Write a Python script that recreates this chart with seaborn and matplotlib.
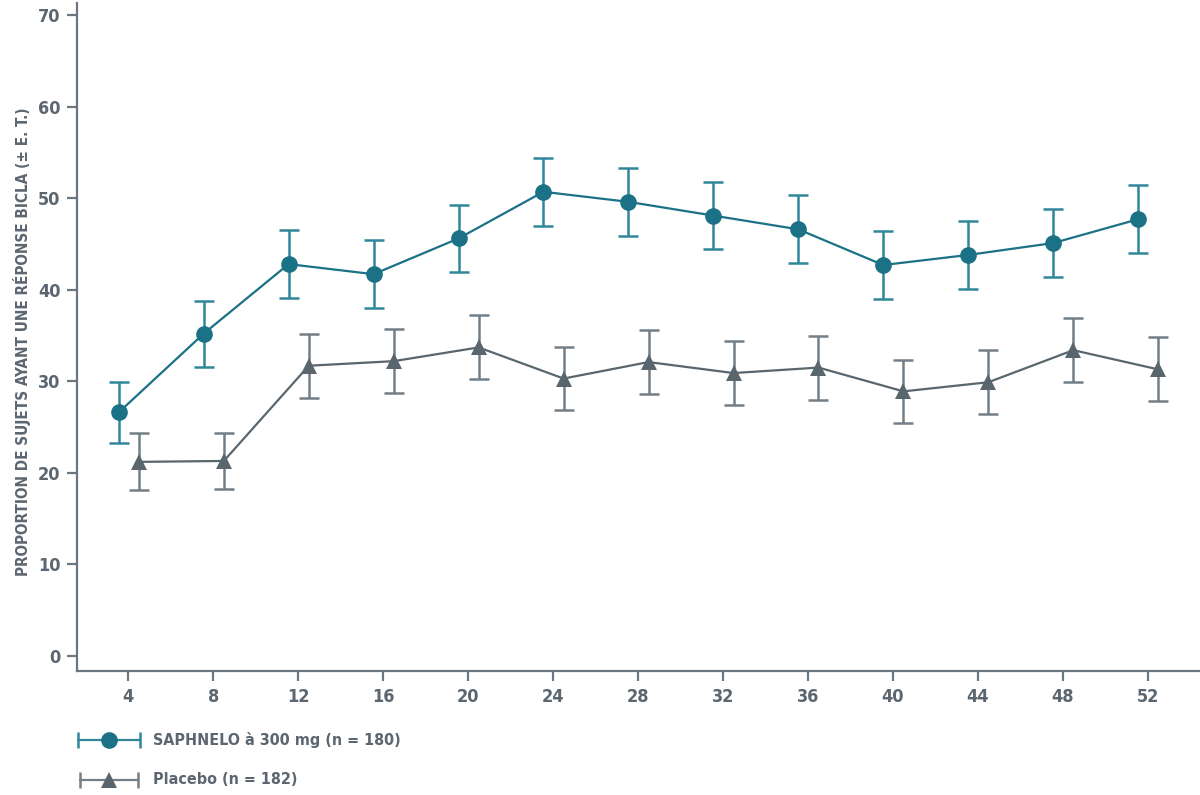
import pandas as pd
import seaborn as sns
import matplotlib.pyplot as plt

weeks = [4, 8, 12, 16, 20, 24, 28, 32, 36, 40, 44, 48, 52]
saph = [26.6, 35.2, 42.8, 41.7, 45.6, 50.7, 49.6, 48.1, 46.6, 42.7, 43.8, 45.1, 47.7]
saph_se = [3.3, 3.6, 3.7, 3.7, 3.7, 3.7, 3.7, 3.7, 3.7, 3.7, 3.7, 3.7, 3.7]
plac = [21.2, 21.3, 31.7, 32.2, 33.7, 30.3, 32.1, 30.9, 31.5, 28.9, 29.9, 33.4, 31.3]
plac_se = [3.1, 3.1, 3.5, 3.5, 3.5, 3.4, 3.5, 3.5, 3.5, 3.4, 3.5, 3.5, 3.5]
labels = ["SAPHNELO à 300 mg (n = 180)", "Placebo (n = 182)"]
ylab = "PROPORTION DE SUJETS AYANT UNE RÉPONSE BICLA (± E. T.)"

sns.set_style("white")
plt.rcParams["font.family"] = ["DejaVu Sans"]
plt.rcParams["font.stretch"] = "condensed"
plt.rcParams["font.weight"] = "bold"

TXT = "#5b6670"
SPINE = "#6b7780"
TEAL = "#1b7185"
TEAL_E = "#2f8799"
GREY = "#59666e"
GREY_E = "#737f88"

# long table, the two arms are nudged left / right of each week
df = pd.concat([
    pd.DataFrame({"week": weeks, "val": saph, "se": saph_se, "grp": labels[0], "off": -0.45}),
    pd.DataFrame({"week": weeks, "val": plac, "se": plac_se, "grp": labels[1], "off": 0.5}),
])
df["x"] = df["week"] + df["off"]

fig = plt.figure(figsize=(12, 7.95), dpi=100)
ax = fig.add_axes([0.0644, 0.156, 0.935, 0.84])

styles = {labels[0]: (TEAL, TEAL_E, "o", 12), labels[1]: (GREY, GREY_E, "^", 12)}
for g, d in df.groupby("grp", sort=False):
    c, ce, m, ms = styles[g]
    ax.errorbar(d["x"], d["val"], yerr=d["se"], fmt="none", ecolor=ce,
                elinewidth=1.8, capsize=7, capthick=1.8, zorder=2)
    sns.lineplot(data=d, x="x", y="val", ax=ax, color=c, marker=m,
                 markersize=ms, markeredgewidth=0, linewidth=1.6,
                 zorder=3, legend=False)

ax.set_xlim(1.6, 54.43)
ax.set_ylim(-1.64, 71.3)
ax.set_xticks(weeks)
ax.set_yticks(range(0, 71, 10))
ax.set_xlabel("")
ax.set_ylabel("")
fig.text(0.018, 0.57, ylab, rotation=90, color=TXT, fontsize=11,
         fontweight="bold", ha="center", va="center")
for s in ["top", "right"]:
    ax.spines[s].set_visible(False)
for s in ["left", "bottom"]:
    ax.spines[s].set_color(SPINE)
    ax.spines[s].set_linewidth(1.6)
ax.tick_params(axis="both", direction="out", length=7, width=1.6, color=SPINE,
               labelcolor=TXT, labelsize=13, pad=5, left=True, bottom=True)
for t in ax.get_xticklabels() + ax.get_yticklabels():
    t.set_fontweight("bold")

# legend drawn in pixel coordinates
lg = fig.add_axes([0, 0, 1, 1], zorder=-1)
lg.set_xlim(0, 1200)
lg.set_ylim(795, 0)
lg.axis("off")
for (yy, x0, x1, g) in [(740, 78, 140, labels[0]), (780, 80, 138, labels[1])]:
    c, ce, m, ms = styles[g]
    lg.plot([x0, x1], [yy, yy], color=ce, lw=1.6, marker="|", markersize=11,
            markeredgewidth=1.8)
    lg.plot([(x0 + x1) / 2], [yy], color=c, marker=m, markersize=ms, markeredgewidth=0)
    lg.text(153, yy, g, color=TXT, fontsize=11.5, fontweight="bold", va="center")

fig.savefig("out.png", dpi=100)
